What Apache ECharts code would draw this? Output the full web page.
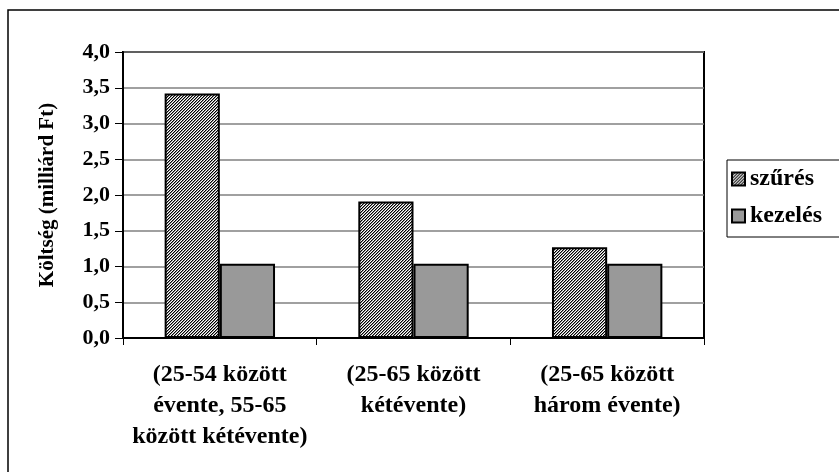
<!DOCTYPE html>
<html>
<head>
<meta charset="utf-8">
<script src="https://cdn.jsdelivr.net/npm/echarts@6/dist/echarts.min.js"></script>
<style>
  html, body { margin: 0; padding: 0; background: #fff; }
  #chart { width: 839px; height: 472px; }
</style>
</head>
<body>
<div id="chart"></div>
<script>
// Screening programme variants (category axis)
const categories = [
  '(25-54 között\névente, 55-65\nközött kétévente)',
  '(25-65 között\nkétévente)',
  '(25-65 között\nhárom évente)'
];
// Cost in billion HUF
const szuresValues = [3.42, 1.91, 1.27];
const kezelesValues = [1.04, 1.04, 1.04];
const seriesNames = ['szűrés', 'kezelés'];
const yTicks = { min: 0, max: 4, interval: 0.5 };

const FONT = '"Liberation Serif", "Times New Roman", serif';

// Fine diagonal hatching used for the screening bars
function hatchPattern() {
  const n = 3;
  const c = document.createElement('canvas');
  c.width = n; c.height = n;
  const g = c.getContext('2d');
  g.fillStyle = '#ffffff';
  g.fillRect(0, 0, n, n);
  for (let i = 0; i < n; i++) {
    g.fillStyle = '#000000';
    g.fillRect(i, n - 1 - i, 1, 1);
    g.fillStyle = '#8a8a8a';
    g.fillRect((i + 1) % n, n - 1 - i, 1, 1);
  }
  return c;
}

const chart = echarts.init(document.getElementById('chart'), null, { renderer: 'canvas' });

chart.setOption({
  backgroundColor: '#ffffff',
  animation: false,
  graphic: [{
    type: 'rect',
    shape: { x: 8, y: 10, width: 900, height: 520 },
    style: { fill: 'none', stroke: '#000', lineWidth: 1.5 },
    silent: true
  }],
  grid: {
    left: 123, right: 135, top: 52, bottom: 134,
    show: true, borderColor: '#000', borderWidth: 2
  },
  legend: {
    orient: 'vertical',
    left: 727, top: 160,
    width: 120,
    padding: [7, 30, 9, 4],
    itemGap: 13,
    itemWidth: 13, itemHeight: 13,
    borderColor: '#000', borderWidth: 1,
    backgroundColor: '#fff',
    icon: 'rect',
    textStyle: { fontFamily: FONT, fontWeight: 'bold', fontSize: 24, color: '#000' },
    data: seriesNames
  },
  xAxis: {
    type: 'category',
    data: categories,
    axisLine: { lineStyle: { color: '#000', width: 2 } },
    axisTick: { show: true, length: 7, lineStyle: { color: '#000', width: 1 } },
    axisLabel: {
      interval: 0, margin: 21, lineHeight: 31,
      fontFamily: FONT, fontWeight: 'bold', fontSize: 24, color: '#000', align: 'center'
    },
    splitLine: { show: false }
  },
  yAxis: {
    type: 'value',
    min: yTicks.min, max: yTicks.max, interval: yTicks.interval,
    name: 'Költség (milliárd Ft)',
    nameLocation: 'middle',
    nameGap: 65,
    nameRotate: 90,
    nameTextStyle: { fontFamily: FONT, fontWeight: 'bold', fontSize: 21, color: '#000' },
    axisLine: { show: true, lineStyle: { color: '#000', width: 2 } },
    axisTick: { show: true, length: 8, lineStyle: { color: '#000', width: 1 } },
    axisLabel: {
      margin: 13,
      fontFamily: FONT, fontWeight: 'bold', fontSize: 22, color: '#000',
      formatter: v => v.toFixed(1).replace('.', ',')
    },
    splitLine: { show: true, lineStyle: { color: '#808080', width: 1.5 } }
  },
  series: [
    {
      name: seriesNames[0],
      type: 'bar',
      data: szuresValues,
      barGap: '0%',
      barCategoryGap: '43%',
      itemStyle: {
        color: { image: hatchPattern(), repeat: 'repeat' },
        borderColor: '#000', borderWidth: 2
      }
    },
    {
      name: seriesNames[1],
      type: 'bar',
      data: kezelesValues,
      barGap: '0%',
      barCategoryGap: '43%',
      itemStyle: { color: '#999999', borderColor: '#000', borderWidth: 2 }
    }
  ]
});
</script>
</body>
</html>
